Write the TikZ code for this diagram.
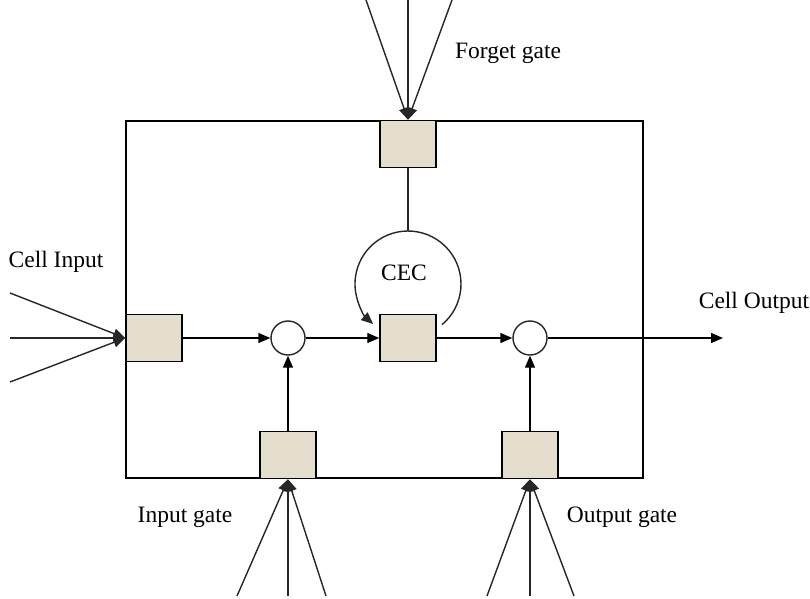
\documentclass[tikz,border=0pt]{standalone}
\usepackage{fontspec}
\setmainfont{Liberation Serif}
\usetikzlibrary{arrows.meta,positioning}
\definecolor{gatefill}{RGB}{229,222,206}

\begin{document}
\begin{tikzpicture}[
  x=1pt,
  y=-1pt,
  font=\fontsize{23.5}{28}\selectfont,
  >={Triangle[length=12pt,width=10pt]},
  line width=1.4pt,
  block/.style={
    draw=black,
    minimum width=517pt,
    minimum height=357pt,
    inner sep=0pt
  },
  gatebox/.style={
    draw=black,
    fill=gatefill,
    line width=1.5pt,
    minimum width=56pt,
    minimum height=47pt,
    inner sep=0pt
  },
  product/.style={
    circle,
    draw=black!85,
    fill=white,
    minimum size=34pt,
    inner sep=0pt
  },
  tag/.style={inner sep=0pt},
  flow/.style={->,draw=black},
  feed/.style={->,draw=black!85}
]
  \useasboundingbox (0,0) rectangle (810,598);

  % Outer memory block.
  \node[block] (memblock) at (384.5,299.5) {};

  % Gates sitting on the block border, and the two products.
  \node[gatebox] (cellin) at (154,338) {};
  \node[gatebox] (forget) at (408,144) {};
  \node[gatebox] (cec) at (408,338) {};
  \node[gatebox] (ingate) at (288,455) {};
  \node[gatebox] (outgate) at (530,455) {};
  \node[product] (mulin) at (288,338) {};
  \node[product] (mulout) at (530,338) {};

  % Main path through the cell.
  \coordinate (cellout) at (723,338);
  \draw[flow] (cellin.east) -- (mulin.west);
  \draw[flow] (mulin.east) -- (cec.west);
  \draw[flow] (cec.east) -- (mulout.west);
  \draw[flow] (mulout.east) -- (cellout);
  \draw[flow] (ingate.north) -- (mulin.south);
  \draw[flow] (outgate.north) -- (mulout.south);

  % Constant error carousel: self loop, gated from above.
  \coordinate (loopc) at (408,284);
  \draw[draw=black!85] (forget.south) -- ([shift={(0,-53)}]loopc);
  \draw[feed] ([shift={(50:53)}]loopc) arc[start angle=50,end angle=-229,radius=53];

  % Incoming connections from outside the block.
  \foreach \name/\xa/\ya in {a/10/293,b/10/338,c/10/382}
    \coordinate (in\name) at (\xa,\ya);
  \foreach \name in {a,b,c}
    \draw[feed] (in\name) -- (cellin.west);

  \foreach \name/\xa in {a/366,b/408,c/452}
    \coordinate (fg\name) at (\xa,0);
  \foreach \name in {a,b,c}
    \draw[feed] (fg\name) -- (forget.north);

  \foreach \name/\xa in {a/237,b/288,c/326}
    \coordinate (ig\name) at (\xa,596);
  \foreach \name in {a,b,c}
    \draw[feed] (ig\name) -- (ingate.south);

  \foreach \name/\xa in {a/487,b/530,c/574}
    \coordinate (og\name) at (\xa,596);
  \foreach \name in {a,b,c}
    \draw[feed] (og\name) -- (outgate.south);

  % Labels.
  \node[tag] (forgetlabel) at (508,53) {Forget gate};
  \node[tag] (cellinlabel) at (56,262) {Cell Input};
  \node[tag] (ceclabel) at (404,273) {CEC};
  \node[tag] (celloutlabel) at (754,303) {Cell Output};
  \node[tag] (inlabel) at (185,517) {Input gate};
  \node[tag] (outlabel) at (622,517) {Output gate};
\end{tikzpicture}
\end{document}
